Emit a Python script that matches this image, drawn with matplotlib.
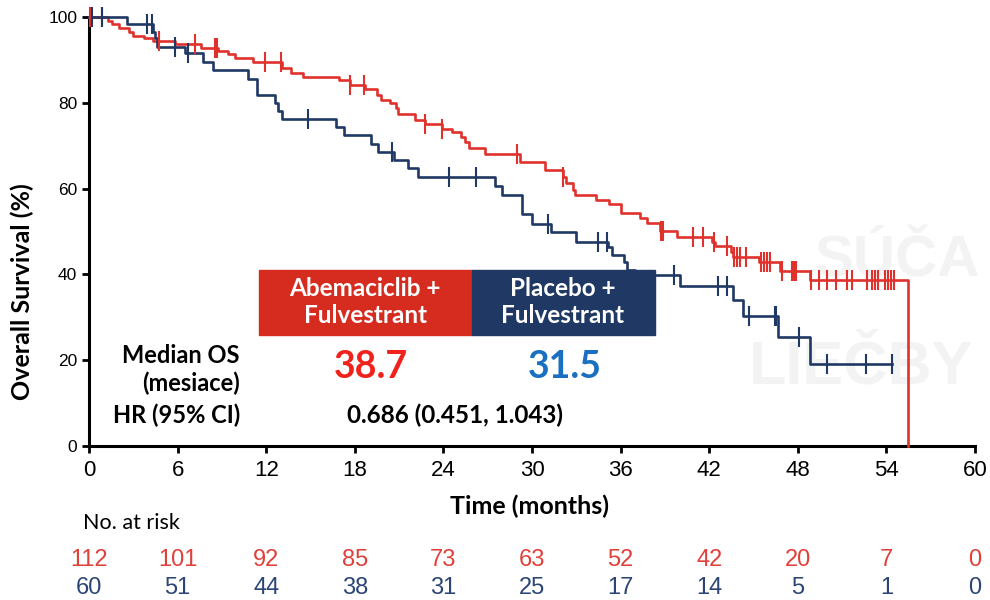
import numpy as np
import matplotlib
matplotlib.use('Agg')
import matplotlib.pyplot as plt
from matplotlib.patches import Rectangle

# Abemaciclib + Fulvestrant (step change points, months / % surviving)
red_t = [0, 1.26, 1.53, 2.0, 2.7, 3.0, 3.75, 4.35, 5.8, 7.6, 8.75, 9.4, 9.9, 11.1,
         13.05, 13.7, 14.5, 16.9, 17.7, 18.7, 19.5, 19.8, 20.4, 20.8, 20.95, 22.1,
         22.75, 23.9, 24.6, 25.2, 25.45, 25.7, 26.8, 29.2, 30.9, 32.1, 32.3, 32.8,
         32.9, 34.3, 35.2, 36.0, 37.3, 37.8, 38.65, 39.8, 42.2, 42.4, 43.5, 43.6,
         45.4, 46.8, 48.8, 55.45, 55.45]
red_s = [100, 99.1, 98.3, 97.4, 96.6, 95.6, 95.0, 94.5, 93.7, 92.8, 92.1, 91.3, 90.4, 89.6,
         88.0, 87.0, 86.1, 85.2, 84.1, 83.1, 81.8, 80.7, 79.9, 78.7, 77.5, 76.0,
         75.1, 74.0, 73.1, 72.1, 70.9, 69.5, 68.0, 66.3, 64.3, 62.8, 61.2, 59.7,
         58.5, 57.3, 56.3, 54.2, 53.1, 51.9, 50.0, 48.8, 47.6, 46.5, 45.3, 44.0,
         43.0, 40.8, 38.7, 38.7, 0]
red_cens = [0.05, 0.9, 4.75, 7.2, 8.55, 8.65, 11.9, 13.0, 17.7, 18.6, 22.75, 23.9, 28.95,
            32.1, 38.7, 38.9, 40.9, 41.6, 42.3, 43.2, 43.7, 43.9, 44.1, 44.5, 45.5, 45.7,
            45.9, 46.1, 46.9, 47.6, 47.75, 47.9, 48.9, 49.4, 50.0, 50.6, 51.3, 51.7,
            52.7, 53.0, 53.2, 53.4, 53.9, 54.1, 54.3, 54.5]

# Placebo + Fulvestrant
blue_t = [0, 2.55, 4.35, 4.5, 4.6, 6.5, 7.7, 8.4, 10.8, 11.35, 12.6, 12.8, 13.05, 16.7,
          17.3, 19.1, 19.6, 20.65, 21.6, 22.3, 27.5, 28.0, 29.3, 30.0, 31.3, 33.0, 35.15,
          35.4, 36.2, 36.4, 37.0, 40.0, 43.6, 44.3, 46.65, 48.8, 54.4]
blue_s = [100, 98.3, 96.6, 95.0, 93.0, 91.5, 89.5, 87.7, 85.5, 81.8, 80.0, 78.2, 76.3, 74.4,
          72.5, 70.5, 68.6, 66.7, 64.7, 62.6, 60.5, 58.4, 54.0, 51.8, 49.8, 47.5, 46.3,
          44.5, 42.8, 41.0, 39.9, 37.2, 34.0, 30.3, 25.3, 19.1, 19.1]
blue_cens = [0.2, 0.9, 3.9, 4.25, 5.8, 6.7, 14.85, 20.55, 24.4, 26.2, 31.1, 34.5, 35.05,
             39.6, 42.6, 43.2, 44.7, 46.45, 46.55, 48.1, 50.0, 52.6, 54.4]

risk_times = [0, 6, 12, 18, 24, 30, 36, 42, 48, 54, 60]
risk_red = [112, 101, 92, 85, 73, 63, 52, 42, 20, 7, 0]
risk_blue = [60, 51, 44, 38, 31, 25, 17, 14, 5, 1, 0]

RED = '#e0322d'
NAVY = '#1f3864'
BOX_RED = '#d62b1f'

def surv_at(t, times, surv):
    i = np.searchsorted(times, t, side='right') - 1
    return np.array(surv)[i]

fig = plt.figure(figsize=(9.9, 6), dpi=100)
ax = fig.add_axes([0.0899, 0.2567, 0.895, 0.715])

ax.step(red_t, red_s, where='post', color=RED, lw=1.9, zorder=3, clip_on=False)
ax.step(blue_t, blue_s, where='post', color=NAVY, lw=1.9, zorder=3, clip_on=False)
ax.plot(red_cens, surv_at(red_cens, red_t[:-1], red_s[:-1]), ls='none', marker='|',
        ms=15, mew=1.5, color=RED, zorder=3, clip_on=False)
ax.plot(blue_cens, surv_at(blue_cens, blue_t, blue_s), ls='none', marker='|',
        ms=15, mew=1.5, color=NAVY, zorder=3, clip_on=False)

# faint watermark (only the part that shows on the slide)
ax.text(49.1, 42.9, 'SÚČA', fontsize=42, fontweight='bold', color='#f3f3f3',
        family='Liberation Sans', va='center', ha='left', zorder=0, clip_on=False)
ax.text(44.7, 18.2, 'LIEČBY', fontsize=44, fontweight='bold', color='#f3f3f3',
        family='Liberation Sans', va='center', ha='left', zorder=0, clip_on=False)

ax.set_xlim(0, 60)
ax.set_ylim(0, 100)
ax.set_xticks(risk_times)
ax.set_yticks([0, 20, 40, 60, 80, 100])
for s in ['top', 'right']:
    ax.spines[s].set_visible(False)
for s in ['left', 'bottom']:
    ax.spines[s].set_linewidth(2.2)
ax.tick_params(width=2, length=5, color='black')
ax.tick_params(axis='x', pad=5)
for lab in ax.get_yticklabels():
    lab.set_family('Liberation Sans')
    lab.set_fontsize(12.5)
for lab in ax.get_xticklabels():
    lab.set_family('Liberation Sans')
    lab.set_fontsize(16)

ax.set_ylabel('Overall Survival (%)', family='Lato', fontweight='bold', fontsize=18,
              va='center')
ax.yaxis.set_label_coords(-0.0756, 0.359)
ax.set_xlabel('Time (months)', family='Lato', fontweight='bold', fontsize=18, va='top')
ax.xaxis.set_label_coords(0.497, -0.113)

# treatment boxes
ax.add_patch(Rectangle((11.5, 25.9), 14.43, 15.1, color=BOX_RED, zorder=5, clip_on=False))
ax.add_patch(Rectangle((25.93, 25.9), 12.37, 15.1, color=NAVY, zorder=5, clip_on=False))
ax.text(18.7, 33.5, 'Abemaciclib +\nFulvestrant', color='white', fontsize=17.5,
        family='Lato', fontweight='bold', ha='center', va='center', zorder=6,
        linespacing=1.2)
ax.text(32.1, 33.5, 'Placebo +\nFulvestrant', color='white', fontsize=17.5,
        family='Lato', fontweight='bold', ha='center', va='center', zorder=6,
        linespacing=1.2)

# stats
kw = dict(family='Lato', fontweight='bold', fontsize=17, ha='right', va='center')
ax.text(10.22, 21.2, 'Median OS', **kw)
ax.text(10.22, 14.6, '(mesiace)', **kw)
ax.text(10.22, 7.2, 'HR (95% CI)', **kw)
ax.text(19.1, 18.4, '38.7', color='#f0221b', family='Lato', fontweight='bold',
        fontsize=27, ha='center', va='center')
ax.text(32.2, 18.4, '31.5', color='#1b6fc0', family='Lato', fontweight='bold',
        fontsize=27, ha='center', va='center')
ax.text(24.8, 7.2, '0.686 (0.451, 1.043)', family='Lato', fontweight='bold',
        fontsize=17.5, ha='center', va='center')

# number at risk
tr = ax.get_xaxis_transform()
ax.text(-0.4, -0.18, 'No. at risk', transform=tr, family='Lato', fontsize=15.5,
        ha='left', va='center')
for t, r, b in zip(risk_times, risk_red, risk_blue):
    ax.text(t, -0.266, str(r), transform=tr, color='#e0403a', family='Liberation Sans',
            fontsize=17, ha='center', va='center')
    ax.text(t, -0.331, str(b), transform=tr, color='#2b4674', family='Liberation Sans',
            fontsize=17, ha='center', va='center')

fig.savefig('out.png', dpi=100)
